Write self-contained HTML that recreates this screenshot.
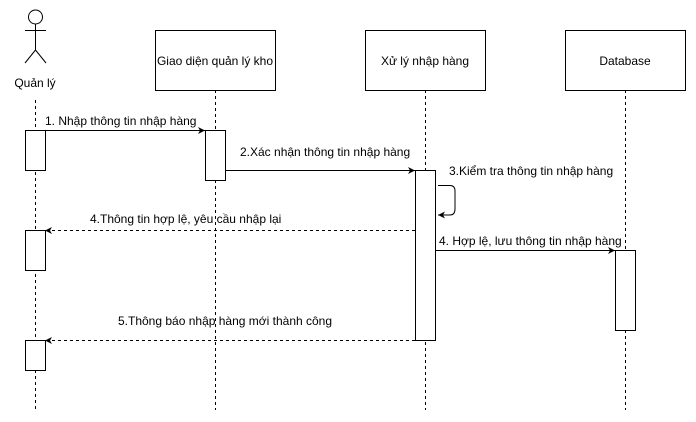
<!DOCTYPE html>
<html><head><meta charset="utf-8"><style>
html,body{margin:0;padding:0;background:#fff;}
svg{display:block;font-family:"Liberation Sans",Arial,sans-serif;font-size:12px;}
</style></head><body>
<svg width="696" height="422" viewBox="0 0 696 422" xmlns="http://www.w3.org/2000/svg">
<defs><marker id="a" markerWidth="8" markerHeight="8" refX="7" refY="4" orient="auto" markerUnits="userSpaceOnUse"><path d="M0,0.5 L7,4 L0,7.5 L2,4 Z" fill="#000"/></marker></defs>
<g stroke="#000" stroke-dasharray="3,3" fill="none">
<line x1="35.5" y1="100" x2="35.5" y2="410"/>
<line x1="215.5" y1="90" x2="215.5" y2="410"/>
<line x1="425.5" y1="90" x2="425.5" y2="410"/>
<line x1="625.5" y1="90" x2="625.5" y2="410"/>
</g>
<g stroke="#000" fill="#fff">
<circle cx="35.5" cy="17" r="7"/>
<line x1="35.5" y1="24" x2="35.5" y2="50"/>
<line x1="25" y1="30.5" x2="46" y2="30.5"/>
<line x1="35.5" y1="50" x2="25" y2="63"/>
<line x1="35.5" y1="50" x2="46" y2="63"/>
<rect x="155.5" y="30.5" width="120" height="60"/>
<rect x="365.5" y="30.5" width="120" height="60"/>
<rect x="565.5" y="30.5" width="120" height="60"/>
<rect x="25.5" y="130.5" width="20" height="40"/>
<rect x="25.5" y="230.5" width="20" height="40"/>
<rect x="25.5" y="340.5" width="20" height="30"/>
<rect x="205.5" y="130.5" width="20" height="50"/>
<rect x="415.5" y="170.5" width="20" height="170"/>
<rect x="615.5" y="250.5" width="20" height="80"/>
</g>
<g fill="#000" text-anchor="middle">
<text x="35" y="87">Quản lý</text>
<text x="215" y="65">Giao diện quản lý kho</text>
<text x="425" y="65">Xử lý nhập hàng</text>
<text x="625" y="65">Database</text>
</g>
<g stroke="#000" fill="none">
<line x1="45" y1="130.5" x2="205" y2="130.5" marker-end="url(#a)"/>
<line x1="225" y1="170.5" x2="415" y2="170.5" marker-end="url(#a)"/>
<path d="M438,185.5 L450,185.5 Q455,185.5 455,191 L455,209 Q455,215 450,215 L438,215" marker-end="url(#a)"/>
<line x1="415" y1="230.5" x2="45" y2="230.5" stroke-dasharray="3,3" marker-end="url(#a)"/>
<line x1="435" y1="250.5" x2="615" y2="250.5" marker-end="url(#a)"/>
<line x1="415" y1="340.5" x2="45" y2="340.5" stroke-dasharray="3,3" marker-end="url(#a)"/>
</g>
<g fill="#000">
<text x="45" y="125">1. Nhập thông tin nhập hàng</text>
<text x="240" y="156">2.Xác nhận thông tin nhập hàng</text>
<text x="449" y="175">3.Kiểm tra thông tin nhập hàng</text>
<text x="90" y="223">4.Thông tin hợp lệ, yêu cầu nhập lại</text>
<text x="439" y="245">4. Hợp lệ, lưu thông tin nhập hàng</text>
<text x="118" y="325">5.Thông báo nhập hàng mới thành công</text>
</g>
</svg>
</body></html>
